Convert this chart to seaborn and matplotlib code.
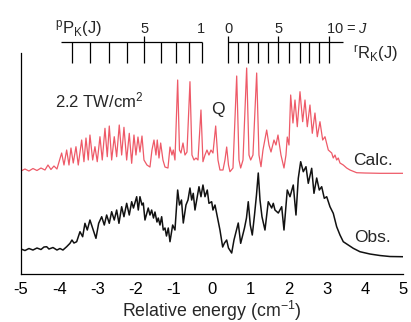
import matplotlib
matplotlib.use("Agg")
import matplotlib.pyplot as plt
import numpy as np
import pandas as pd
import seaborn as sns

# ---------------- data ----------------
# calculated spectrum (red), energy in cm^-1, intensity in arbitrary units
calc_x = [-5.000, -4.895, -4.791, -4.686, -4.581, -4.476, -4.372, -4.293, -4.215, -4.136,
          -4.058, -3.935, -3.874, -3.804, -3.743, -3.691, -3.631, -3.560, -3.500, -3.411,
          -3.351, -3.298, -3.238, -3.194, -3.123, -3.063, -3.003, -2.932, -2.872, -2.801,
          -2.741, -2.688, -2.626, -2.558, -2.495, -2.427, -2.364, -2.304, -2.233, -2.165,
          -2.102, -2.042, -1.990, -1.937, -1.885, -1.832, -1.780, -1.702, -1.623, -1.571,
          -1.518, -1.466, -1.432, -1.387, -1.343, -1.283, -1.230, -1.152, -1.099, -1.047,
          -1.013, -0.969, -0.898, -0.851, -0.812, -0.759, -0.707, -0.654, -0.576, -0.524,
          -0.471, -0.419, -0.366, -0.288, -0.236, -0.183, -0.131, -0.079, -0.026, 0.026,
          0.097, 0.157, 0.209, 0.288, 0.340, 0.385, 0.432, 0.471, 0.550, 0.647,
          0.707, 0.751, 0.812, 0.908, 0.969, 1.013, 1.073, 1.170, 1.230, 1.283,
          1.335, 1.432, 1.492, 1.545, 1.623, 1.675, 1.728, 1.806, 1.885, 1.937,
          1.971, 2.016, 2.060, 2.120, 2.173, 2.233, 2.304, 2.374, 2.435, 2.495,
          2.565, 2.626, 2.696, 2.757, 2.827, 2.898, 2.958, 3.045, 3.134, 3.175,
          3.220, 3.264, 3.306, 3.351, 3.437, 3.526, 3.613, 3.788, 4.005, 4.398, 5.000]
calc_y = [106, 108, 106, 108.5, 106.5, 109, 107, 112, 107.5, 111,
          108, 124, 112, 127, 112, 129, 114, 130.3, 112, 137,
          115.3, 139, 117, 142, 117, 130.3, 115.3, 140.3, 117, 148.7,
          120.3, 151, 117, 140.3, 120.3, 152, 122, 149.7, 117, 143.7,
          113.7, 142, 122, 140, 125, 141, 117, 112, 110, 127,
          137, 122, 137, 119, 134, 117, 110, 109, 130, 122,
          127, 117, 197, 127, 124, 134, 122, 125, 195.3, 122,
          117, 119, 117, 167, 115.3, 122, 127, 122, 127, 124,
          151, 117, 107, 107, 117, 130, 112, 105.3, 109, 201,
          117, 109, 117, 209, 122, 117, 122, 204, 122, 110.3,
          127, 147, 132, 125, 137, 132, 142, 122, 109, 122,
          140, 132, 182, 154, 177, 150.3, 185.3, 155.3, 177, 150.3,
          172, 143.7, 164, 140.3, 155.3, 137, 140.3, 127, 124, 119,
          122, 117, 119, 114, 112, 109, 107, 104.3, 104, 103.7, 103.7]

# observed spectrum (black)
obs_x = [-5.000, -4.895, -4.791, -4.686, -4.581, -4.476, -4.398, -4.327, -4.267, -4.162,
         -4.058, -3.979, -3.901, -3.804, -3.717, -3.665, -3.613, -3.542, -3.455, -3.385,
         -3.325, -3.264, -3.194, -3.123, -3.037, -2.966, -2.887, -2.819, -2.757, -2.688,
         -2.626, -2.558, -2.495, -2.435, -2.364, -2.304, -2.233, -2.165, -2.102, -2.055,
         -1.971, -1.929, -1.885, -1.832, -1.798, -1.754, -1.668, -1.623, -1.579, -1.531,
         -1.492, -1.440, -1.406, -1.361, -1.317, -1.275, -1.230, -1.191, -1.144, -1.099,
         -1.029, -0.969, -0.898, -0.851, -0.798, -0.751, -0.681, -0.628, -0.576, -0.531,
         -0.490, -0.445, -0.401, -0.340, -0.288, -0.236, -0.183, -0.123, -0.079, -0.008,
         0.026, 0.079, 0.131, 0.209, 0.280, 0.327, 0.385, 0.432, 0.516, 0.576,
         0.628, 0.688, 0.751, 0.798, 0.851, 0.903, 0.950, 1.003, 1.055, 1.113,
         1.165, 1.212, 1.257, 1.309, 1.387, 1.432, 1.474, 1.563, 1.605, 1.649,
         1.736, 1.825, 1.885, 1.971, 2.042, 2.128, 2.199, 2.259, 2.322, 2.390,
         2.461, 2.521, 2.610, 2.670, 2.741, 2.809, 2.872, 2.940, 3.003, 3.089,
         3.175, 3.264, 3.351, 3.437, 3.568, 3.699, 3.874, 4.136, 4.398, 4.660, 5.000]
obs_y = [28, 26.5, 28.5, 27, 29, 27.5, 30, 30.3, 28, 29.5,
         27, 28.5, 27, 30.3, 33.7, 37, 34, 35.3, 45.3, 40.3,
         53.7, 47, 57, 48.7, 38.7, 53.7, 60.3, 52, 62, 53.7,
         65.3, 57, 67, 53.7, 70.3, 60.3, 73.7, 62, 75.3, 69,
         80.3, 67, 80.3, 72, 74, 57, 69, 62, 67, 59,
         65, 55, 59, 52, 60.3, 47, 49, 41, 49, 35.3,
         52, 47, 87, 72, 77, 54, 72, 77, 89, 77,
         83.7, 67, 77, 90.3, 80.3, 92, 80.3, 87, 73.7, 75.3,
         67, 72, 62, 47, 30, 34, 37, 29, 24, 37,
         45, 54, 33.7, 41, 49, 59, 75.3, 52, 42, 62,
         82, 104, 77, 60.3, 47, 62, 75.3, 69, 73.7, 67,
         64, 70.3, 47, 87, 80.3, 92, 62, 98.7, 115.3, 105.3,
         110.3, 93.7, 108.7, 83.7, 99, 87, 90.3, 78.7, 80.3, 70.3,
         63.7, 50.3, 42, 35.3, 32, 28.7, 25.3, 23, 21.5, 20.5, 20.3]

# rotational branch combs (line positions, cm^-1)
p_branch_J = [1, 2, 3, 4, 5, 6, 7, 8, 9]
p_branch_pos = [-0.270, -0.602, -0.950, -1.343, -1.772, -2.217, -2.696, -3.194, -3.657]
r_branch_J = [0, 1, 2, 3, 4, 5, 6, 7, 8, 9, 10]
r_branch_pos = [0.427, 0.673, 0.950, 1.196, 1.474, 1.736, 2.016, 2.296, 2.547, 2.809, 3.071]

x_ticks = [-5, -4, -3, -2, -1, 0, 1, 2, 3, 4, 5]
y_ticks = [49, 98, 146, 195]

# ---------------- style ----------------
sns.set_style("white")
plt.rcParams["font.family"] = ["Liberation Sans", "DejaVu Sans"]
plt.rcParams["mathtext.fontset"] = "custom"
plt.rcParams["mathtext.rm"] = "Liberation Sans"
plt.rcParams["mathtext.it"] = "Liberation Sans:italic"
plt.rcParams["mathtext.default"] = "regular"

fig = plt.figure(figsize=(4.11, 3.22), dpi=100)
ax = fig.add_axes([0.051, 0.149, 0.9295, 0.6864])

calc_df = pd.DataFrame({"energy": calc_x, "intensity": calc_y})
obs_df = pd.DataFrame({"energy": obs_x, "intensity": obs_y})

sns.lineplot(data=calc_df, x="energy", y="intensity", sort=False, estimator=None,
             color="#ee5a68", lw=0.9, ax=ax)
sns.lineplot(data=obs_df, x="energy", y="intensity", sort=False, estimator=None,
             color="#111111", lw=1.1, ax=ax)

ax.set_xlim(-5, 5)
ax.set_ylim(3, 224)
ax.set_xticks(x_ticks)
ax.set_xticklabels([str(t) for t in x_ticks], fontsize=12)
ax.set_yticks(y_ticks)
ax.set_yticklabels([])
ax.set_ylabel("")
ax.set_xlabel("Relative energy (cm$^{-1}$)", fontsize=12.8, labelpad=1)
for s in ["top", "right"]:
    ax.spines[s].set_visible(False)
for s in ["left", "bottom"]:
    ax.spines[s].set_color("black")
    ax.spines[s].set_linewidth(0.9)
ax.tick_params(axis="x", direction="inout", length=6, width=0.9, pad=3, colors="black")
ax.tick_params(axis="y", direction="out", length=6, width=0.9, colors="black")

# combs above the spectrum
line_y, tick_lo, tick_hi = 235.3, 214, 241
ax.hlines(line_y, -3.961, p_branch_pos[0], color="black", lw=0.9, clip_on=False)
ax.hlines(line_y, r_branch_pos[0], 3.421, color="black", lw=0.9, clip_on=False)
for J, pos in zip(p_branch_J, p_branch_pos):
    top = tick_hi if J == 5 else line_y
    ax.vlines(pos, tick_lo, top, color="black", lw=0.9, clip_on=False)
for J, pos in zip(r_branch_J, r_branch_pos):
    top = tick_hi if J in (0, 5, 10) else line_y
    ax.vlines(pos, tick_lo, top, color="black", lw=0.9, clip_on=False)

lab_y = 244
ax.text(p_branch_pos[4], lab_y, "5", ha="center", va="baseline", fontsize=10.5)
ax.text(p_branch_pos[0] - 0.02, lab_y, "1", ha="center", va="baseline", fontsize=10.5)
ax.text(r_branch_pos[0], lab_y, "0", ha="center", va="baseline", fontsize=10.5)
ax.text(r_branch_pos[5], lab_y, "5", ha="center", va="baseline", fontsize=10.5)
ax.text(2.984, lab_y, "10 = $\\mathit{J}$", ha="left", va="baseline", fontsize=10.5)
ax.text(-4.11, lab_y, "$^{p}$P$_{K}$(J)", ha="left", va="baseline", fontsize=12)
ax.text(3.69, 218, "$^{r}$R$_{K}$(J)", ha="left", va="baseline", fontsize=12)

ax.text(-4.11, 170, "2.2 TW/cm$^{2}$", ha="left", va="baseline", fontsize=12)
ax.text(0.157, 163, "Q", ha="center", va="baseline", fontsize=12.5)
ax.text(3.69, 112, "Calc.", ha="left", va="baseline", fontsize=12.5)
ax.text(3.72, 35, "Obs.", ha="left", va="baseline", fontsize=12.5)

fig.savefig("out.png", dpi=100)
